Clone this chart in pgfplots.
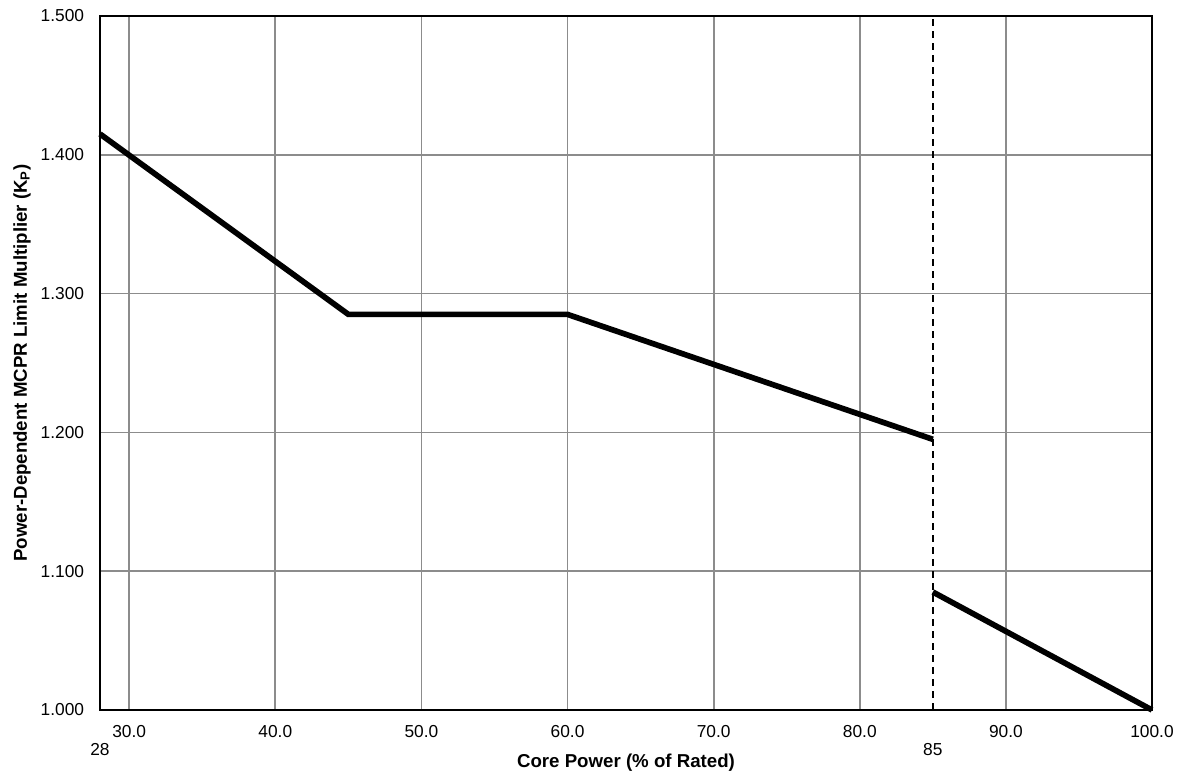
\documentclass[border=0pt]{standalone}
\usepackage{fontspec}
\setmainfont{Liberation Sans}
\usepackage{pgfplots}
\pgfplotsset{compat=1.18}
\begin{document}
\begin{tikzpicture}
\begin{axis}[
  scale only axis,
  width=631.2pt, height=416.4pt,
  xmin=28, xmax=100, ymin=1.0, ymax=1.5,
  xtick={30,40,50,60,70,80,90,100},
  ytick={1.0,1.1,1.2,1.3,1.4,1.5},
  /pgf/number format/assume math mode=true,
  xticklabel style={/pgf/number format/fixed,/pgf/number format/fixed zerofill,/pgf/number format/precision=1},
  yticklabel style={/pgf/number format/fixed,/pgf/number format/fixed zerofill,/pgf/number format/precision=3},
  ticklabel style={font=\fontsize{10.4}{11}\selectfont},
  major tick length=0pt,
  xticklabel shift=5.5pt, yticklabel shift=6pt,
  grid=major,
  major grid style={draw=black!45, line width=1.05pt},
  axis line style={line width=1.5pt},
  extra x ticks={28,85},
  extra x tick labels={28,85},
  extra x tick style={grid=none, xticklabel style={/tikz/yshift=-10.8pt}},
  xlabel={Core Power (\% of Rated)},
  ylabel={Power-Dependent MCPR Limit Multiplier (K\textsubscript{P})},
  label style={font=\fontsize{11.2}{12}\selectfont\bfseries},
  xlabel style={at={(axis description cs:0.5,0)}, anchor=north, yshift=-23pt},
  ylabel style={at={(axis description cs:0,0.5)}, anchor=south, yshift=38pt},
  clip=false,
]
\addplot[black, line width=1.1pt, dash pattern=on 4.2pt off 3pt] coordinates {(85,1.0) (85,1.5)};
\addplot[black, line width=3.4pt] coordinates {(28,1.415) (45,1.285) (60,1.285) (85,1.195)};
\addplot[black, line width=3.4pt] coordinates {(85,1.085) (100,1.000)};
\end{axis}
\pgfresetboundingbox
\path ([shift={(-60pt,-41.4pt)}]current axis.south west) rectangle ([shift={(16.8pt,9.6pt)}]current axis.north east);
\end{tikzpicture}
\end{document}
